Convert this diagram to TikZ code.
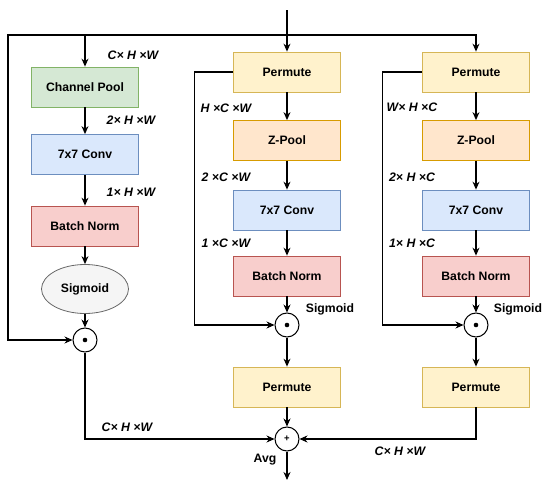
\documentclass[tikz,border=0pt]{standalone}
\usepackage{fontspec}
\setmainfont{Liberation Sans}
\usetikzlibrary{arrows.meta,shapes.geometric}

\definecolor{grfill}{HTML}{D5E8D4}\definecolor{grline}{HTML}{82B366}
\definecolor{blfill}{HTML}{DAE8FC}\definecolor{blline}{HTML}{6C8EBF}
\definecolor{rdfill}{HTML}{F8CECC}\definecolor{rdline}{HTML}{B85450}
\definecolor{yefill}{HTML}{FFF2CC}\definecolor{yeline}{HTML}{D6B656}
\definecolor{orfill}{HTML}{FFE6CC}\definecolor{orline}{HTML}{D79B00}
\definecolor{gyfill}{HTML}{F5F5F5}\definecolor{gyline}{HTML}{666666}

\begin{document}
\begin{tikzpicture}[x=1pt, y=-1pt,
    box/.style={draw, line width=0.8pt, minimum width=107pt, minimum height=40pt,
                font=\fontsize{12.2}{14}\selectfont\bfseries},
    pool/.style={box, fill=grfill, draw=grline},
    conv/.style={box, fill=blfill, draw=blline},
    bnorm/.style={box, fill=rdfill, draw=rdline},
    perm/.style={box, fill=yefill, draw=yeline},
    zpool/.style={box, fill=orfill, draw=orline},
    op/.style={draw, circle, line width=1pt, minimum size=24pt, inner sep=0pt},
    mulop/.style={op, path picture={\fill (path picture bounding box.center) circle (2.3pt);}},
    dimlbl/.style={font=\fontsize{12.3}{14}\selectfont\bfseries\itshape},
    txtlbl/.style={font=\fontsize{12.2}{14}\selectfont\bfseries},
    arr/.style={-{Stealth[length=8pt,width=7pt]}, line width=1.1pt}]
    \useasboundingbox (0,0) rectangle (550,490);

    % Linker Zweig
    \node[pool]  (cp)   at (85,87)    {Channel Pool};
    \node[conv]  (cva)  at (85,154.5) {7x7 Conv};
    \node[bnorm] (bna)  at (85,226)   {Batch Norm};
    \node[draw=gyline, fill=gyfill, ellipse, line width=0.8pt, minimum width=87pt,
          minimum height=49pt, inner sep=0pt, txtlbl] (sga) at (85,289) {Sigmoid};
    \node[mulop] (mula) at (85,340) {};

    % Mittlerer Zweig
    \node[perm]  (pb1)  at (287,72)    {Permute};
    \node[zpool] (zpb)  at (287,140.5) {Z-Pool};
    \node[conv]  (cvb)  at (287,210)   {7x7 Conv};
    \node[bnorm] (bnb)  at (287,276)   {Batch Norm};
    \node[mulop] (mulb) at (287,325)   {};
    \node[perm]  (pb2)  at (287,387)   {Permute};

    % Rechter Zweig
    \node[perm]  (pc1)  at (476,72)    {Permute};
    \node[zpool] (zpc)  at (476,140.5) {Z-Pool};
    \node[conv]  (cvc)  at (476,210)   {7x7 Conv};
    \node[bnorm] (bnc)  at (476,276)   {Batch Norm};
    \node[mulop] (mulc) at (476,325)   {};
    \node[perm]  (pc2)  at (476,387)   {Permute};

    % Summe
    \node[op] (sum) at (287,439) {\fontsize{9.5}{9.5}\selectfont\bfseries +};
    \coordinate (in)    at (287,10);
    \coordinate (split) at (287,35);
    \coordinate (lt)    at (8,35);
    \coordinate (out)   at (287,480);

    % Verbindungen
    \draw[arr] (in) -- (pb1);
    \draw[arr] (split) -| (pc1);
    \draw[arr] (split) -| (cp);
    \draw[arr] (split) -- (lt) |- (mula);
    \foreach \a/\b in {cp/cva, cva/bna, bna/sga, sga/mula,
                       pb1/zpb, zpb/cvb, cvb/bnb, bnb/mulb, mulb/pb2, pb2/sum,
                       pc1/zpc, zpc/cvc, cvc/bnc, bnc/mulc, mulc/pc2} {
        \draw[arr] (\a) -- (\b);
    }
    \draw[arr] (pb1.west) -- ++(-39,0) |- (mulb);
    \draw[arr] (pc1.west) -- ++(-40,0) |- (mulc);
    \draw[arr] (mula) |- (sum);
    \draw[arr] (pc2) |- (sum);
    \draw[arr] (sum) -- (out);

    % Beschriftung
    \node[dimlbl] at (133,55)  {C× H ×W};
    \node[dimlbl] at (131,120) {2× H ×W};
    \node[dimlbl] at (131,192) {1× H ×W};
    \node[dimlbl] at (226,108) {H ×C ×W};
    \node[dimlbl] at (226,177) {2 ×C ×W};
    \node[dimlbl] at (226,243) {1 ×C ×W};
    \node[dimlbl] at (412,107) {W× H ×C};
    \node[dimlbl] at (412,177) {2× H ×C};
    \node[dimlbl] at (412,243) {1× H ×C};
    \node[txtlbl] at (330,309) {Sigmoid};
    \node[txtlbl] at (518,309) {Sigmoid};
    \node[txtlbl] at (265,460) {Avg};
    \node[dimlbl] at (127,427) {C× H ×W};
    \node[dimlbl] at (400,451) {C× H ×W};
\end{tikzpicture}
\end{document}
